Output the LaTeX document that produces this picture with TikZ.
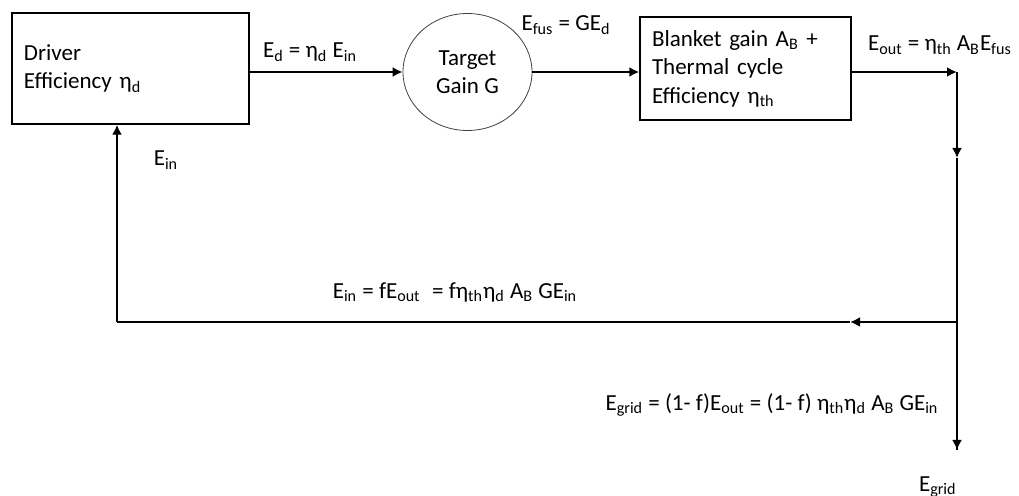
\documentclass[tikz,border=0pt]{standalone}
\usepackage{fontspec}
\setmainfont{Carlito}
\usepackage{tikz}
\usetikzlibrary{arrows.meta,positioning,shapes.geometric}

\newcommand{\lo}[1]{\textsubscript{#1}}

\tikzset{
  block/.style={draw,line width=0.7pt,align=left,inner xsep=6pt,font=\fontsize{11.5}{14.2}\selectfont},
  flow/.style={line width=1pt},
  lbl/.style={inner sep=0pt,font=\fontsize{11.5}{13}\selectfont}
}

\begin{document}
\begin{tikzpicture}[x=0.5pt,y=-0.5pt,>={Latex[length=5pt,width=5pt]}]
\useasboundingbox (0,0) rectangle (1019,496);

\node[block,text width=106.5pt,minimum height=55.5pt] (driver) at (130.5,68.5) {Driver\\Efficiency η\lo{d}};
\node[draw,ellipse,thin,black!75,minimum width=64.5pt,minimum height=58.5pt,align=center,text=black,font=\fontsize{11.5}{14}\selectfont] (target) at (467.5,72) {Target\\Gain G};
\node[block,text width=93.5pt,minimum height=51.5pt] (blanket) at (745.5,68.5) {Blanket gain A\lo{B} +\\Thermal cycle\\Efficiency η\lo{th}};

\coordinate (split) at (957,72);
\coordinate (mid1) at (957,158);
\coordinate (fork) at (957,322);
\coordinate (gridend) at (957,450);
\coordinate (mid2) at (850,322);
\coordinate (corner) at (117,322);

% forward path
\draw[flow,->] (driver.east |- target.west) -- (target.west);
\draw[flow,->] (target.east) -- (target.east -| blanket.west);
\draw[flow,->] (blanket.east |- split) -- (split);
\draw[flow] (mid1) -- (gridend);
\draw[flow,->] (split) -- (mid1);
\draw[flow,->] (fork) -- (gridend);
% recirculated power
\draw[flow] (mid2) -- (corner);
\draw[flow,->] (fork) -- (mid2);
\draw[flow,->] (corner) -- (corner |- driver.south);

\node[lbl] (edlbl) at (310,52) {E\lo{d} = η\lo{d} E\lo{in}};
\node[lbl] (efuslbl) at (566,25) {E\lo{fus} = GE\lo{d}};
\node[lbl] (eoutlbl) at (940,45) {E\lo{out} = η\lo{th} A\lo{B}E\lo{fus}};
\node[lbl] (einlbl) at (166,160) {E\lo{in}};
\node[lbl] (looplbl) at (455,292) {E\lo{in} = fE\lo{out}\enspace = fη\lo{th}η\lo{d} A\lo{B} GE\lo{in}};
\node[lbl] (gridlbl) at (772,405) {E\lo{grid} = (1- f)E\lo{out} = (1- f) η\lo{th}η\lo{d} A\lo{B} GE\lo{in}};
\node[lbl,below left=13pt and 0pt of gridend] (gridout) {E\lo{grid}};
\end{tikzpicture}
\end{document}
